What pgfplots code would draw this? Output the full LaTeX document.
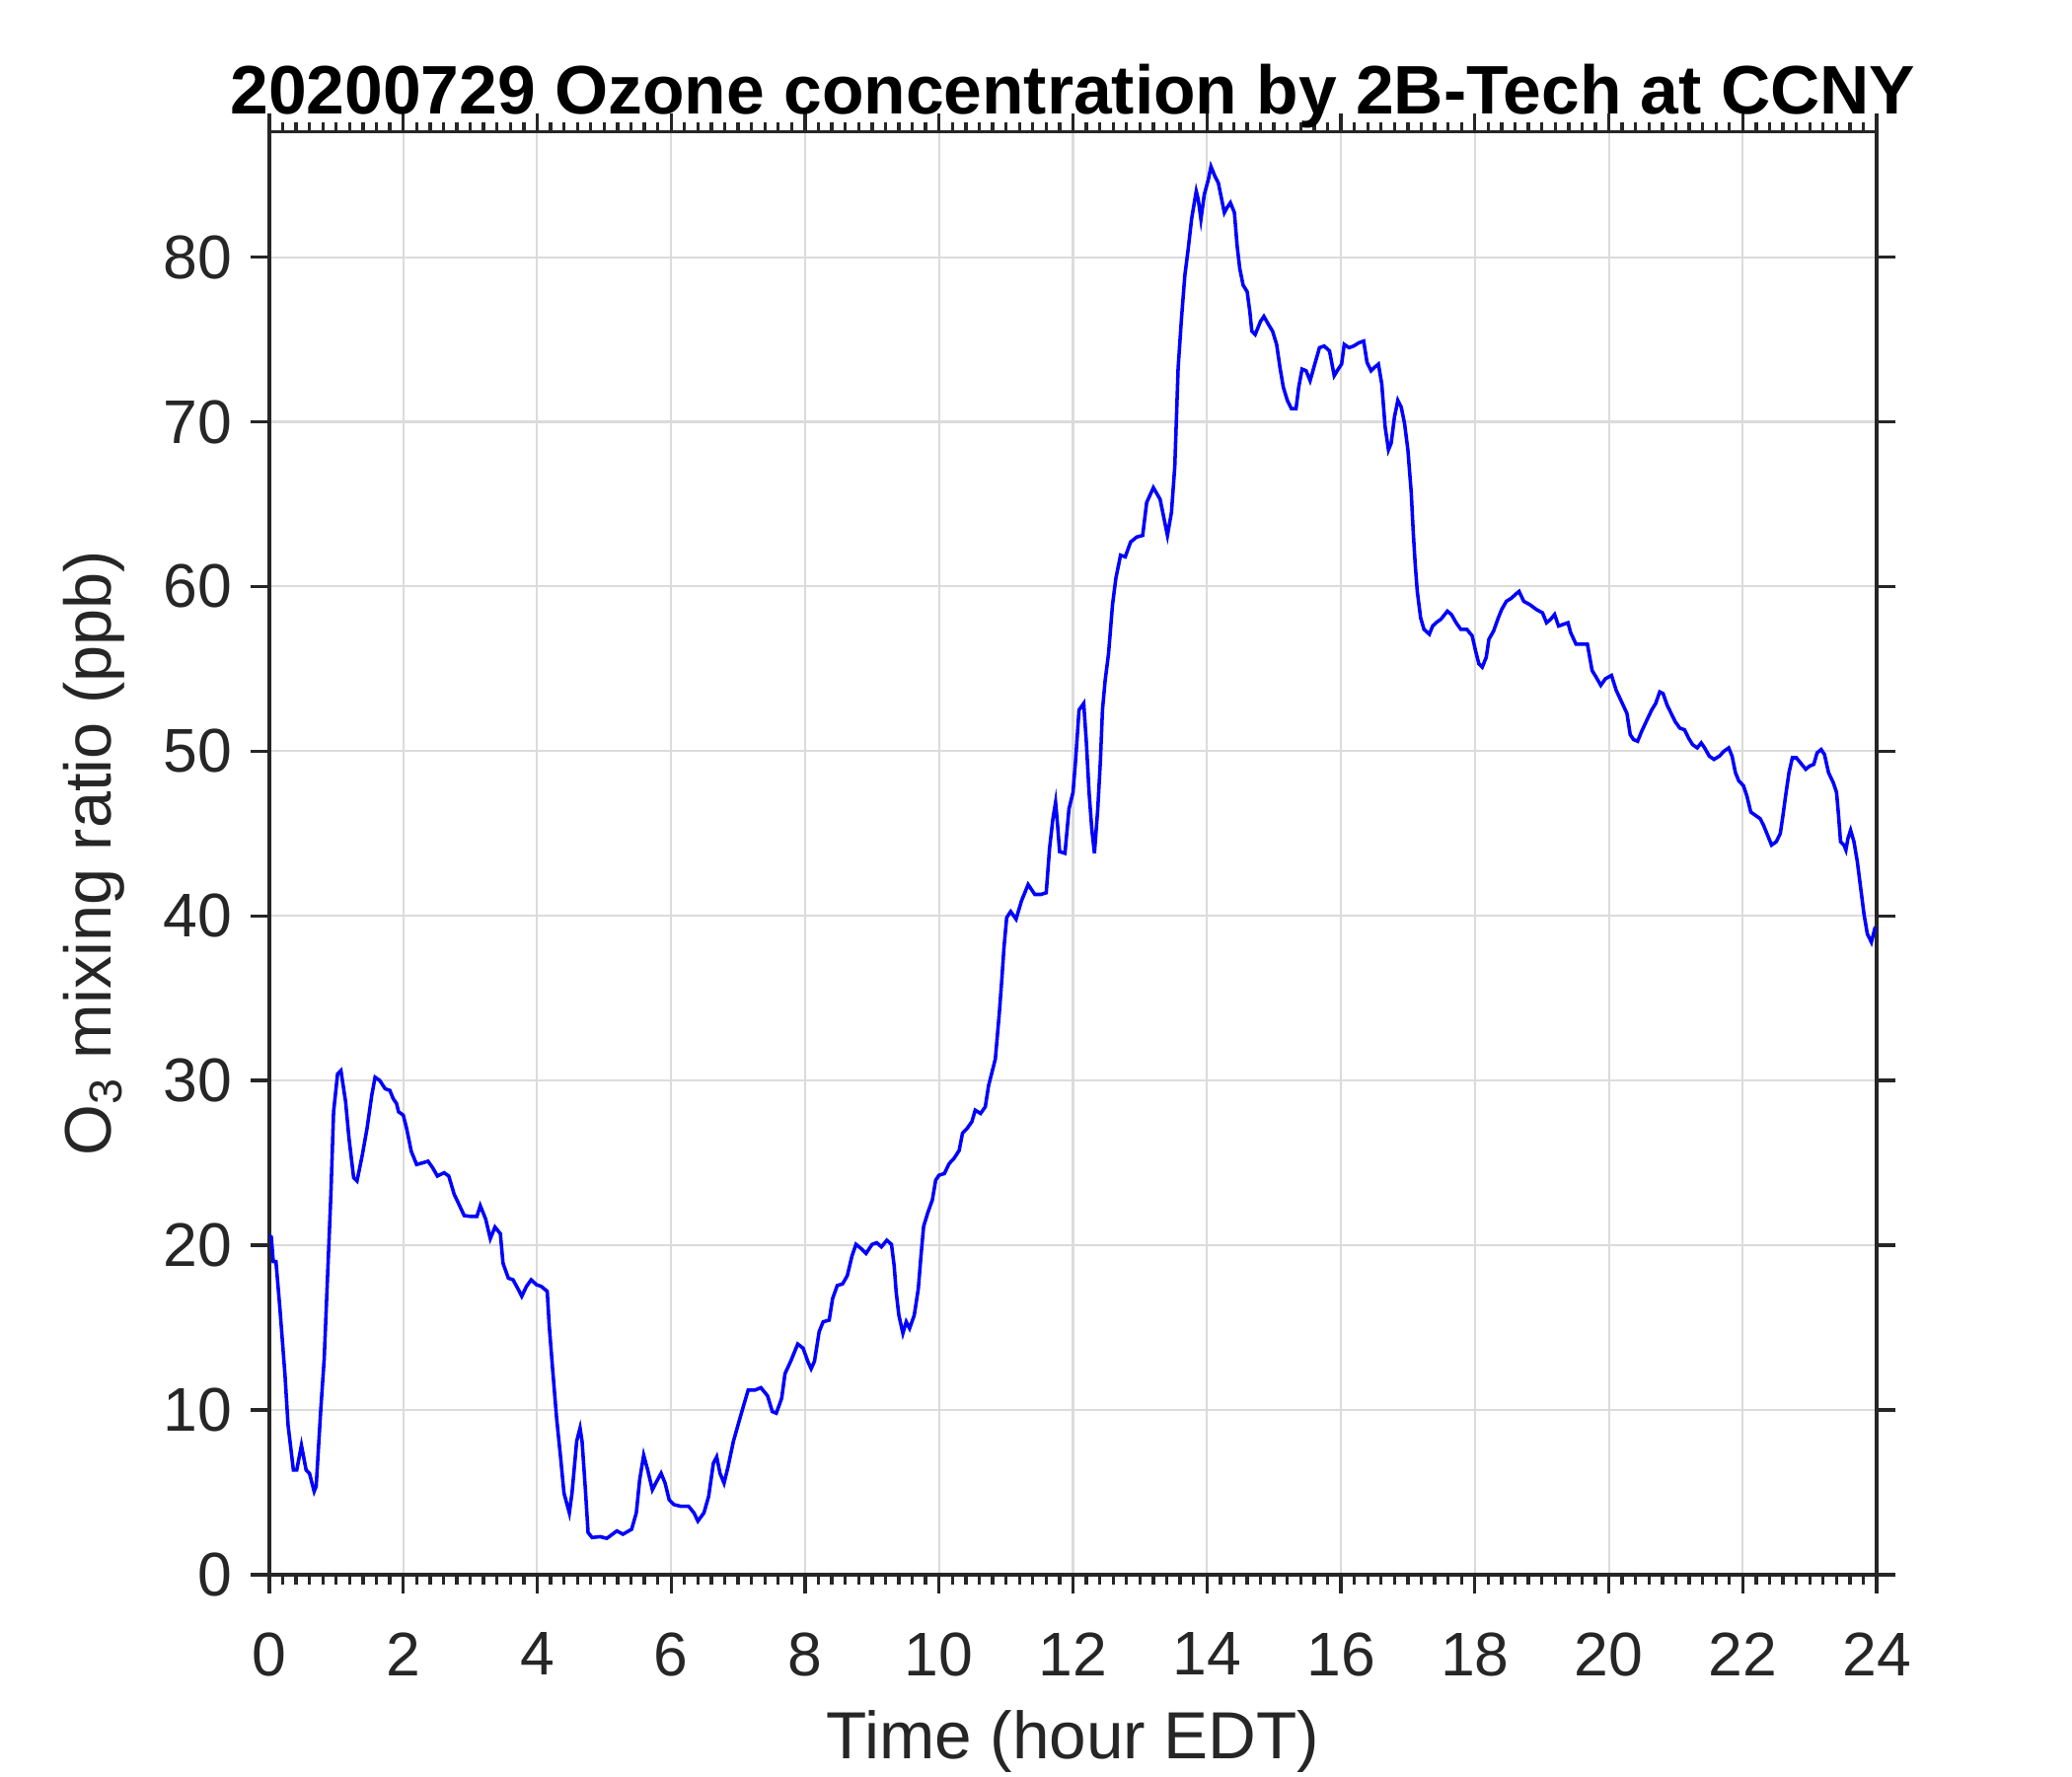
\documentclass[border=0pt]{standalone}
\usepackage{fontspec}
\setmainfont{Liberation Sans}
\usepackage{pgfplots}
\pgfplotsset{compat=1.18}
\definecolor{axc}{RGB}{38,38,38}
\definecolor{gridc}{RGB}{219,219,219}
\definecolor{lineb}{RGB}{0,0,255}
\begin{document}
\begin{tikzpicture}
\useasboundingbox (0,0) rectangle (504pt,432pt);
\begin{axis}[
  at={(65.5pt,49pt)}, anchor=south west,
  scale only axis, width=391pt, height=350.9pt,
  xmin=0, xmax=24, ymin=0, ymax=87.6,
  xtick={0,2,...,24}, ytick={0,10,...,80},
  minor x tick num=9,
  tick align=outside, xtick pos=both, ytick pos=both,
  major tick length=4.6pt, minor tick length=2.4pt,
  axis line style={axc, line width=0.8pt},
  every tick/.style={axc, line width=0.8pt},
  grid=major,
  major grid style={gridc, line width=0.5pt},
  tick label style={text=axc, font=\fontsize{15}{17}\selectfont},
  /pgf/number format/assume math mode=true,
  xticklabel style={yshift=-6pt},
  yticklabel style={xshift=-1pt},
  every axis title shift=0pt,
  title={\textbf{20200729 Ozone concentration by 2B-Tech at CCNY}},
  title style={font=\fontsize{16.7}{19}\selectfont, at={(0.5,1)}, anchor=base, yshift=4.3pt},
  xlabel={Time (hour EDT)},
  xlabel style={text=axc, font=\fontsize{16.2}{19}\selectfont, at={(0.5,0)}, anchor=base, yshift=-44.9pt},
  ylabel={O\textsubscript{3} mixing ratio (ppb)},
  ylabel style={text=axc, font=\fontsize{16}{19}\selectfont, at={(axis description cs:-0.109,0.5)}, anchor=center},
]
\addplot[lineb, line width=0.85pt] table {
0.00 20.6
0.03 20.5
0.06 19.0
0.10 19.0
0.16 16.1
0.235 12.1
0.28 9.1
0.36 6.35
0.41 6.35
0.48 7.85
0.55 6.35
0.60 6.15
0.67 5.05
0.70 5.35
0.77 10.1
0.82 13.1
0.87 18.1
0.92 23.1
0.96 28.1
1.02 30.4
1.07 30.6
1.14 28.7
1.19 26.5
1.26 24.1
1.31 23.9
1.39 25.5
1.46 27.1
1.53 29.1
1.58 30.2
1.65 30.0
1.73 29.5
1.80 29.4
1.85 28.9
1.90 28.6
1.93 28.1
2.00 27.9
2.05 27.1
2.12 25.7
2.20 24.9
2.29 25.0
2.37 25.1
2.44 24.7
2.51 24.2
2.61 24.4
2.68 24.2
2.76 23.1
2.83 22.5
2.91 21.8
3.00 21.75
3.10 21.75
3.15 22.4
3.23 21.6
3.30 20.4
3.37 21.1
3.45 20.7
3.49 18.9
3.57 18.0
3.64 17.9
3.72 17.3
3.77 16.9
3.84 17.5
3.91 17.9
3.99 17.6
4.06 17.5
4.15 17.2
4.18 15.1
4.23 12.5
4.29 9.5
4.35 7.1
4.40 4.95
4.48 3.75
4.52 4.95
4.59 8.1
4.64 8.9
4.67 8.1
4.72 5.15
4.76 2.55
4.82 2.25
4.94 2.3
5.04 2.2
5.19 2.65
5.28 2.45
5.41 2.75
5.48 3.75
5.53 5.75
5.59 7.25
5.65 6.35
5.72 5.15
5.77 5.55
5.85 6.15
5.91 5.55
5.97 4.55
6.04 4.25
6.14 4.15
6.26 4.15
6.34 3.75
6.40 3.25
6.49 3.75
6.56 4.75
6.63 6.75
6.68 7.15
6.73 6.15
6.79 5.55
6.85 6.55
6.93 8.1
7.00 9.1
7.07 10.1
7.15 11.2
7.25 11.2
7.34 11.35
7.44 10.85
7.51 9.9
7.57 9.8
7.65 10.7
7.70 12.2
7.79 13.0
7.89 14.0
7.97 13.75
8.04 12.95
8.09 12.5
8.14 12.95
8.21 14.75
8.27 15.35
8.36 15.45
8.41 16.75
8.48 17.55
8.56 17.65
8.63 18.15
8.70 19.35
8.76 20.05
8.85 19.75
8.91 19.5
9.00 20.05
9.07 20.15
9.14 19.9
9.22 20.3
9.29 20.05
9.33 18.75
9.36 17.15
9.40 15.75
9.46 14.65
9.51 15.35
9.56 14.95
9.63 15.75
9.69 17.35
9.73 19.35
9.77 21.15
9.83 21.95
9.90 22.75
9.95 23.95
10.00 24.25
10.08 24.35
10.15 24.95
10.22 25.25
10.30 25.75
10.35 26.8
10.42 27.1
10.49 27.5
10.54 28.2
10.62 28.0
10.69 28.4
10.74 29.7
10.79 30.5
10.84 31.3
10.87 32.7
10.90 34.1
10.94 36.3
10.97 38.1
11.01 39.9
11.07 40.26
11.15 39.8
11.23 40.9
11.33 41.9
11.43 41.3
11.52 41.3
11.60 41.4
11.65 44.1
11.70 45.9
11.74 46.9
11.77 45.5
11.80 43.9
11.88 43.8
11.94 46.5
12.00 47.5
12.04 49.5
12.09 52.5
12.16 52.9
12.20 50.5
12.24 47.5
12.28 45.3
12.32 43.8
12.37 46.5
12.41 49.5
12.44 52.5
12.48 54.3
12.53 55.9
12.59 58.9
12.64 60.5
12.71 61.9
12.78 61.8
12.86 62.7
12.95 63.0
13.04 63.1
13.10 65.1
13.20 66.0
13.30 65.3
13.36 64.1
13.41 63.1
13.47 64.5
13.52 67.3
13.54 69.7
13.57 73.3
13.62 76.3
13.67 78.9
13.72 80.5
13.77 82.3
13.84 84.0
13.87 83.5
13.91 82.3
13.96 83.8
14.02 84.7
14.06 85.5
14.12 84.9
14.17 84.5
14.21 83.7
14.26 82.7
14.30 83.0
14.35 83.3
14.41 82.7
14.45 80.7
14.49 79.3
14.54 78.3
14.60 77.9
14.64 76.7
14.67 75.5
14.72 75.3
14.80 76.1
14.85 76.4
14.92 75.9
14.98 75.5
15.04 74.7
15.09 73.3
15.14 72.1
15.20 71.3
15.26 70.8
15.33 70.8
15.37 72.1
15.42 73.2
15.48 73.1
15.54 72.5
15.61 73.5
15.68 74.5
15.75 74.6
15.83 74.3
15.90 72.8
15.96 73.2
16.01 73.5
16.05 74.7
16.12 74.5
16.19 74.6
16.27 74.8
16.34 74.9
16.39 73.6
16.45 73.1
16.50 73.3
16.56 73.5
16.61 72.3
16.66 69.7
16.71 68.3
16.75 68.7
16.80 70.3
16.85 71.3
16.90 70.9
16.95 69.9
17.00 68.3
17.05 65.7
17.08 63.3
17.11 61.3
17.14 59.7
17.19 58.1
17.24 57.4
17.32 57.1
17.37 57.6
17.42 57.8
17.49 58.0
17.59 58.5
17.65 58.3
17.72 57.8
17.79 57.4
17.88 57.4
17.96 57.0
18.01 56.1
18.06 55.3
18.11 55.1
18.17 55.7
18.21 56.8
18.28 57.3
18.35 58.1
18.40 58.6
18.47 59.1
18.55 59.3
18.60 59.5
18.66 59.7
18.73 59.1
18.82 58.9
18.92 58.6
19.01 58.4
19.07 57.8
19.13 58.0
19.19 58.3
19.25 57.6
19.32 57.7
19.39 57.8
19.43 57.2
19.51 56.5
19.58 56.5
19.68 56.5
19.75 54.9
19.81 54.5
19.88 54.0
19.95 54.4
20.04 54.6
20.11 53.7
20.19 53.0
20.27 52.3
20.32 51.0
20.37 50.7
20.43 50.6
20.49 51.2
20.57 51.9
20.64 52.5
20.70 52.9
20.76 53.6
20.81 53.5
20.87 52.8
20.93 52.3
20.99 51.8
21.06 51.4
21.13 51.3
21.19 50.8
21.25 50.4
21.32 50.2
21.38 50.5
21.43 50.2
21.50 49.7
21.57 49.5
21.65 49.7
21.72 50.0
21.79 50.2
21.84 49.7
21.89 48.7
21.94 48.2
22.01 47.9
22.06 47.3
22.12 46.3
22.19 46.1
22.26 45.9
22.31 45.5
22.37 44.9
22.43 44.3
22.50 44.5
22.56 45.0
22.60 46.1
22.64 47.3
22.69 48.7
22.74 49.6
22.80 49.6
22.86 49.3
22.94 48.9
23.00 49.1
23.06 49.2
23.11 49.9
23.17 50.1
23.22 49.8
23.28 48.7
23.35 48.1
23.40 47.5
23.43 46.1
23.46 44.5
23.51 44.3
23.54 44.0
23.57 44.7
23.61 45.2
23.66 44.5
23.71 43.3
23.76 41.7
23.81 40.1
23.86 38.9
23.92 38.4
23.97 39.2
24.00 39.1
};
\end{axis}
\end{tikzpicture}
\end{document}
